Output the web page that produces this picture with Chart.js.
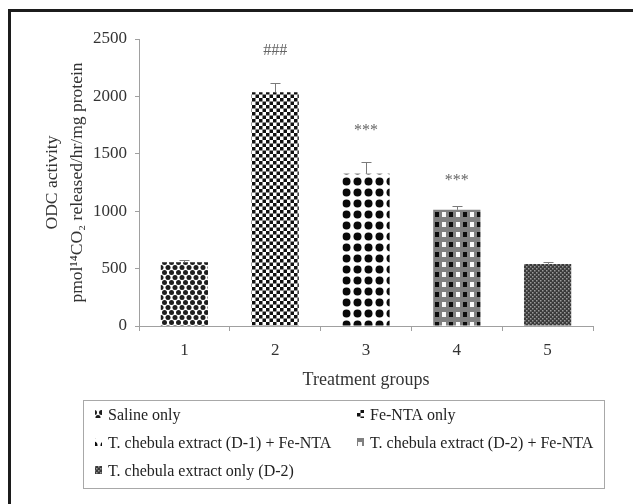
<!DOCTYPE html>
<html>
<head>
<meta charset="utf-8">
<script src="https://cdn.jsdelivr.net/npm/chart.js@4"></script>
<style>
  html, body { margin: 0; padding: 0; background: #fff; }
  #wrap { position: relative; width: 633px; height: 504px; }
</style>
</head>
<body>
<div id="wrap"><canvas id="barchart" width="633" height="504"></canvas></div>
<script>
// ODC activity bar chart
var groups = ["1", "2", "3", "4", "5"];
var odcValues = [556, 2036, 1326, 1012, 541];
var odcErrors = [23, 82, 102, 29, 20];
var marks = ["", "###", "***", "***", ""];
var markLevels = [null, 2393, 1704, 1265, null];
var legendNames = [
    "Saline only",
    "Fe-NTA only",
    "T. chebula extract (D-1) + Fe-NTA",
    "T. chebula extract (D-2) + Fe-NTA",
    "T. chebula extract only (D-2)"
];

var serif = "'Liberation Serif', 'DejaVu Serif', serif";

function makePattern(w, h, paint) {
    var c = document.createElement("canvas");
    c.width = w; c.height = h;
    var g = c.getContext("2d");
    paint(g, w, h);
    return document.getElementById("barchart").getContext("2d").createPattern(c, "repeat");
}

function dot(g, x, y, r, col) {
    g.fillStyle = col;
    g.beginPath();
    g.arc(x, y, r, 0, Math.PI * 2);
    g.fill();
}

var patterns = [
    // hex dots
    makePattern(7, 10, function(g, w, h) {
        g.fillStyle = "#fff"; g.fillRect(0, 0, w, h);
        dot(g, 3.5, 2.5, 2.5, "#1e1e1e");
        dot(g, 0, 7.5, 2.5, "#1e1e1e");
        dot(g, 7, 7.5, 2.5, "#1e1e1e");
    }),
    // checkerboard
    makePattern(7, 7, function(g, w, h) {
        g.fillStyle = "#fff"; g.fillRect(0, 0, w, h);
        g.fillStyle = "#111";
        g.fillRect(0, 0, 3.5, 3.5);
        g.fillRect(3.5, 3.5, 3.5, 3.5);
    }),
    // big dots
    makePattern(11, 11, function(g, w, h) {
        g.fillStyle = "#fff"; g.fillRect(0, 0, w, h);
        dot(g, 5.5, 5.5, 4, "#0a0a0a");
    }),
    // grey with black and white squares
    makePattern(14, 10, function(g, w, h) {
        g.fillStyle = "#808080"; g.fillRect(0, 0, w, h);
        g.fillStyle = "#0d0d0d"; g.fillRect(1, 2, 4, 5);
        g.fillStyle = "#fafafa"; g.fillRect(8, 2, 4, 5);
    }),
    // dark fine texture
    makePattern(4, 4, function(g, w, h) {
        g.fillStyle = "#3a3a3a"; g.fillRect(0, 0, w, h);
        g.fillStyle = "#9a9a9a";
        g.fillRect(0, 0, 1.5, 1.5);
        g.fillRect(2, 2, 1.5, 1.5);
    })
];

// error bars and significance marks
const extrasPlugin = {
    id: "extras",
    afterDatasetsDraw(chart) {
        const ctx = chart.ctx;
        const x = chart.scales.x;
        const y = chart.scales.y;
        const meta = chart.getDatasetMeta(0);
        ctx.save();
        ctx.strokeStyle = "#7a7a7a";
        ctx.lineWidth = 1;
        meta.data.forEach(function(bar, i) {
            var top = y.getPixelForValue(odcValues[i]);
            var hi = y.getPixelForValue(odcValues[i] + odcErrors[i]);
            var cx = Math.round(bar.x) + 0.5;
            ctx.beginPath();
            ctx.moveTo(cx, top);
            ctx.lineTo(cx, Math.round(hi) + 0.5);
            ctx.moveTo(cx - 5, Math.round(hi) + 0.5);
            ctx.lineTo(cx + 5, Math.round(hi) + 0.5);
            ctx.stroke();
        });
        ctx.fillStyle = "#666";
        ctx.font = "16px " + serif;
        ctx.textAlign = "center";
        ctx.textBaseline = "middle";
        marks.forEach(function(m, i) {
            if (!m) return;
            ctx.fillText(m, x.getPixelForValue(i), y.getPixelForValue(markLevels[i]));
        });
        ctx.restore();
    }
};

// frame and boxed legend
const legendBoxPlugin = {
    id: "legendBox",
    afterDraw(chart) {
        const ctx = chart.ctx;
        ctx.save();
        ctx.fillStyle = "#1c1c1c";
        ctx.fillRect(8, 9, 625, 3);
        ctx.fillRect(8, 9, 3, 495);

        ctx.strokeStyle = "#a8a8a8";
        ctx.lineWidth = 1;
        ctx.strokeRect(83.5, 400.5, 521, 88);

        var cols = [98, 360];
        var rows = [415, 443, 471];
        ctx.font = "16px " + serif;
        ctx.textBaseline = "middle";
        ctx.textAlign = "left";
        legendNames.forEach(function(name, i) {
            var cx = cols[i % 2];
            var cy = rows[Math.floor(i / 2)];
            ctx.fillStyle = patterns[i];
            ctx.fillRect(cx - 3, cy - 5, 7, 8);
            ctx.fillStyle = "#222";
            ctx.fillText(name, cx + 10, cy + 1);
        });
        ctx.restore();
    }
};

const ctx = document.getElementById("barchart").getContext("2d");

const config = {
    type: "bar",
    data: {
        labels: groups,
        datasets: [
            {
                label: "ODC activity",
                data: odcValues,
                backgroundColor: patterns,
                borderWidth: 0,
                barPercentage: 0.52,
                categoryPercentage: 1.0
            }
        ]
    },
    options: {
        responsive: false,
        animation: false,
        layout: {
            padding: { left: 40, top: 39, right: 40, bottom: 113 }
        },
        scales: {
            x: {
                grid: {
                    display: true,
                    drawOnChartArea: false,
                    drawTicks: true,
                    tickLength: 5,
                    color: "#a0a0a0",
                    offset: true
                },
                border: { color: "#a0a0a0" },
                ticks: {
                    color: "#333",
                    font: { family: serif, size: 17 },
                    padding: 9
                },
                title: {
                    display: true,
                    text: "Treatment groups",
                    color: "#333",
                    font: { family: serif, size: 18 },
                    padding: { top: 6, bottom: 0 }
                },
                afterFit: function(scale) { scale.height = 65; }
            },
            y: {
                min: 0,
                max: 2500,
                grid: {
                    display: true,
                    drawOnChartArea: false,
                    drawTicks: true,
                    tickLength: 4,
                    color: "#a0a0a0"
                },
                border: { color: "#a0a0a0" },
                ticks: {
                    stepSize: 500,
                    color: "#333",
                    font: { family: serif, size: 17 },
                    padding: 8,
                    callback: function(v) { return String(v); }
                },
                title: {
                    display: true,
                    text: ["ODC activity", "pmol\u00b9\u2074CO\u2082 released/hr/mg protein"],
                    color: "#333",
                    font: { family: serif, size: 17.5, lineHeight: 1.43 },
                    padding: 0
                },
                afterFit: function(scale) { scale.width = 99; }
            }
        },
        plugins: {
            legend: { display: false },
            tooltip: { enabled: false }
        }
    },
    plugins: [extrasPlugin, legendBoxPlugin]
};

var barChart = new Chart(ctx, config);
</script>
</body>
</html>
